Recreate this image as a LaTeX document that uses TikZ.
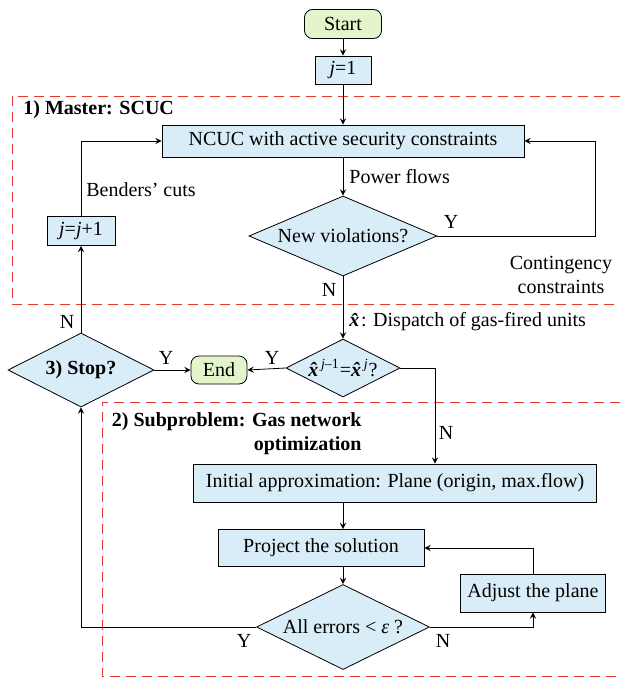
\documentclass[tikz,border=0pt]{standalone}
\usepackage{fontspec}
\setmainfont{Liberation Serif}
\usetikzlibrary{shapes.geometric}
\definecolor{boxblue}{HTML}{D9EDF8}
\definecolor{termgreen}{HTML}{E4F5CC}
\definecolor{frame}{HTML}{E8382E}
\newcommand{\xhat}{\textbf{\textit{\^x}}}

\begin{document}
\begin{tikzpicture}[x=0.5pt,y=-0.5pt,>=stealth,font=\fontsize{10}{12}\selectfont,
  block/.style={draw,fill=boxblue,inner sep=0pt},
  term/.style={draw,fill=termgreen,rounded corners=4pt,inner sep=0pt},
  test/.style={draw,fill=boxblue,diamond,aspect=2.2,inner sep=0pt},
  region/.style={frame,dash pattern=on 5pt off 3pt,line width=0.5pt},
  lbl/.style={inner sep=1pt}]
  \useasboundingbox (0,0) rectangle (620,680);
  % dashed regions (open on the right)
  \draw[region] (620,96) -- (12,96) -- (12,304) -- (620,304);
  \draw[region] (620,402) -- (102,402) -- (102,676) -- (620,676);
  \node[lbl,anchor=west,font=\fontsize{10}{12}\selectfont\bfseries] (mtitle) at (21,110) {1) Master: SCUC};
  \node[lbl,anchor=north east,align=right,font=\fontsize{10}{12}\selectfont\bfseries] (stitle) at (364,410) {2) Subproblem: Gas network\\optimization};
  % nodes
  \node[term,minimum width=38.5pt,minimum height=14.5pt] (start) at (343,24) {Start};
  \node[block,minimum width=28pt,minimum height=14pt] (j1) at (343,70) {\textit{j}=1};
  \node[block,minimum width=181pt,minimum height=16pt] (ncuc) at (343,141) {NCUC with active security constraints};
  \node[test,minimum width=94pt,minimum height=40pt] (viol) at (343,236) {New violations?};
  \node[block,minimum width=34pt,minimum height=14.5pt] (jinc) at (81,231) {\textit{j}=\textit{j}+1};
  \node[test,minimum width=73pt,minimum height=37pt,font=\fontsize{10}{12}\selectfont\bfseries] (stop) at (81,370) {3) Stop?};
  \node[term,minimum width=28pt,minimum height=14pt] (endn) at (219,370) {End};
  \node[test,minimum width=57pt,minimum height=29pt] (same) at (343,368) {\xhat\kern-1pt\textsuperscript{\textit{j}--1}=\xhat\kern-1pt\textsuperscript{\textit{j}}?};
  \node[block,minimum width=201.5pt,minimum height=19pt] (init) at (395,483) {Initial approximation: Plane (origin, max.flow)};
  \node[block,minimum width=103pt,minimum height=18.5pt] (proj) at (321,548) {Project the solution};
  \node[block,minimum width=72.5pt,minimum height=19pt] (adj) at (533,593) {Adjust the plane};
  \node[test,minimum width=86.5pt,minimum height=42.5pt] (errs) at (343,627) {All errors \textless{} \textit{ε} ?};
  % corners
  \coordinate (cont) at (595,236);
  \coordinate (nside) at (435,368);
  % connectors
  \draw[->] (start) -- (j1);
  \draw[->] (j1) -- (ncuc);
  \draw[->] (ncuc) -- (viol);
  \draw[->] (viol.east) -- (cont) |- (ncuc.east);
  \draw[->] (viol) -- (same);
  \draw[->] (same.west) -- (endn.east);
  \draw[->] (stop.east) -- (endn.west);
  \draw[->] (stop.north) -- (jinc.south);
  \draw[->] (jinc.north) |- (ncuc.west);
  \draw[->] (same.east) -- (nside) -- (nside |- init.north);
  \draw[->] (init.south -| errs) -- (proj.north -| errs);
  \draw[->] (proj.south -| errs) -- (errs.north);
  \draw[->] (errs.east) -| (adj.south);
  \draw[->] (adj.north) |- (proj.east);
  \draw[->] (errs.west) -| (stop.south);
  % labels
  \node[lbl,anchor=west] (pflow) at (347,177) {Power flows};
  \node[lbl] (bcut) at (141,190) {Benders’ cuts};
  \node[lbl] (yviol) at (451,222) {Y};
  \node[lbl,align=center] (ccons) at (561,275) {Contingency\\constraints};
  \node[lbl] (nviol) at (329,290) {N};
  \node[lbl,anchor=west] (disp) at (347,322) {\xhat\kern-1.5pt: Dispatch of gas-fired units};
  \node[lbl] (nstop) at (67,322) {N};
  \node[lbl] (ystop) at (166,358) {Y};
  \node[lbl] (ysame) at (272,358) {Y};
  \node[lbl] (nsame) at (446,433) {N};
  \node[lbl] (yerrs) at (244,641) {Y};
  \node[lbl] (nerrs) at (443,641) {N};
\end{tikzpicture}
\end{document}
